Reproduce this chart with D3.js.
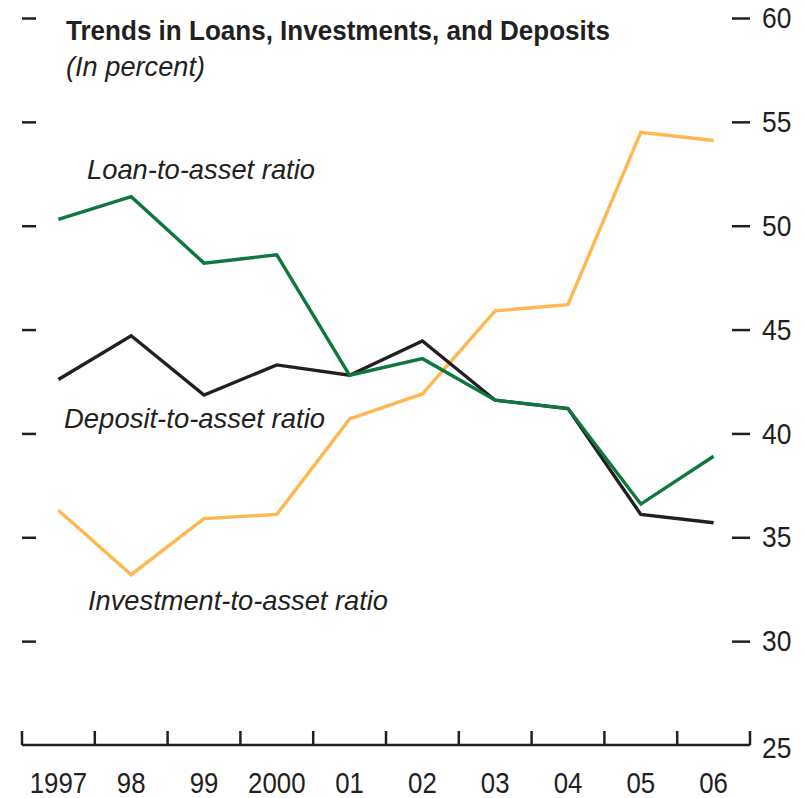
<!DOCTYPE html>
<html>
<head>
<meta charset="utf-8">
<script src="https://cdn.jsdelivr.net/npm/d3@7"></script>
<style>
  html, body { margin: 0; padding: 0; background: #ffffff; }
  svg { display: block; }
  text { font-family: "Liberation Sans Narrow", "Arial Narrow", "Liberation Sans", sans-serif; fill: #231f20; }
</style>
</head>
<body>
<svg id="chart" width="805" height="798"></svg>
<script>
const years = ["1997", "98", "99", "2000", "01", "02", "03", "04", "05", "06"];
const loanRatio = [50.3, 51.4, 48.2, 48.6, 42.8, 43.6, 41.6, 41.2, 36.6, 38.9];
const depositRatio = [42.6, 44.7, 41.85, 43.3, 42.8, 44.45, 41.6, 41.2, 36.1, 35.7];
const investmentRatio = [36.3, 33.2, 35.9, 36.1, 40.7, 41.9, 45.9, 46.2, 54.5, 54.1];
const yTicks = [25, 30, 35, 40, 45, 50, 55, 60];
const leftTicks = [30, 35, 40, 45, 50, 55, 60];

const svg = d3.select("#chart");

// condense glyphs horizontally to imitate a condensed typeface
function condense(sel, factor) {
  sel.each(function () {
    const w = this.getComputedTextLength();
    d3.select(this).attr("textLength", w * factor).attr("lengthAdjust", "spacingAndGlyphs");
  });
}
function fitWidth(sel, width) {
  sel.attr("textLength", width).attr("lengthAdjust", "spacingAndGlyphs");
}

const x = d3.scaleBand().domain(years).range([22, 750]).padding(0);
const y = d3.scaleLinear().domain([25, 60]).range([745, 18]);
const cx = d => x(d) + x.bandwidth() / 2;

// X axis baseline with ticks at band edges
const xAxis = d3.axisBottom(x).tickSize(0).tickPadding(27);
const gx = svg.append("g").attr("transform", "translate(0,745)").call(xAxis);
gx.select(".domain").remove();
gx.selectAll("text")
  .style("font-size", "30px")
  .attr("fill", "#231f20")
  .call(condense, 0.86);

svg.append("line")
  .attr("x1", x.range()[0]).attr("x2", x.range()[1])
  .attr("y1", 745).attr("y2", 745)
  .attr("stroke", "#231f20").attr("stroke-width", 2.5);

const edges = years.map(d => x(d)).concat([x(years[years.length - 1]) + x.bandwidth()]);
svg.append("g").selectAll("line").data(edges).join("line")
  .attr("x1", d => d).attr("x2", d => d)
  .attr("y1", 745).attr("y2", 731)
  .attr("stroke", "#231f20").attr("stroke-width", 2.5);

// Right axis
const yAxisR = d3.axisRight(y).tickValues(yTicks.filter(v => v > 25)).tickSize(18).tickPadding(12);
const gr = svg.append("g").attr("transform", "translate(732,0)").call(yAxisR);
gr.select(".domain").remove();
gr.selectAll("line").attr("stroke", "#231f20").attr("stroke-width", 2.5);
gr.selectAll("text").style("font-size", "30px").attr("fill", "#231f20").call(condense, 0.88);
// 25 label sits beside baseline
svg.append("text")
  .attr("x", 762).attr("y", y(25))
  .attr("dy", "0.43em")
  .style("font-size", "30px")
  .text(yTicks[0])
  .call(condense, 0.88);

// Left ticks (no labels)
const yAxisL = d3.axisRight(y).tickValues(leftTicks).tickSize(14).tickFormat("");
const gl = svg.append("g").attr("transform", "translate(22,0)").call(yAxisL);
gl.select(".domain").remove();
gl.selectAll("line").attr("stroke", "#231f20").attr("stroke-width", 2.5);

// Lines
const line = d3.line().x((d, i) => cx(years[i])).y(d => y(d));
svg.append("path").datum(investmentRatio)
  .attr("d", line).attr("fill", "none")
  .attr("stroke", "#fdb84f").attr("stroke-width", 3.4);
svg.append("path").datum(depositRatio)
  .attr("d", line).attr("fill", "none")
  .attr("stroke", "#231f20").attr("stroke-width", 3.4);
svg.append("path").datum(loanRatio)
  .attr("d", line).attr("fill", "none")
  .attr("stroke", "#0d773c").attr("stroke-width", 3.4);

// Title
svg.append("text")
  .attr("x", 66).attr("y", 40)
  .style("font-size", "28px").style("font-weight", "bold")
  .text("Trends in Loans, Investments, and Deposits")
  .call(fitWidth, 544);
svg.append("text")
  .attr("x", 66).attr("y", 76)
  .style("font-size", "28px").style("font-style", "italic")
  .text("(In percent)")
  .call(fitWidth, 139);

// Series labels
const labels = [
  { t: "Loan-to-asset ratio", x: 87, y: 179, w: 228 },
  { t: "Deposit-to-asset ratio", x: 64, y: 428, w: 261 },
  { t: "Investment-to-asset ratio", x: 88, y: 610, w: 300 }
];
svg.append("g").selectAll("text").data(labels).join("text")
  .attr("x", d => d.x).attr("y", d => d.y)
  .style("font-size", "28px").style("font-style", "italic")
  .text(d => d.t)
  .attr("textLength", d => d.w).attr("lengthAdjust", "spacingAndGlyphs");
</script>
</body>
</html>
